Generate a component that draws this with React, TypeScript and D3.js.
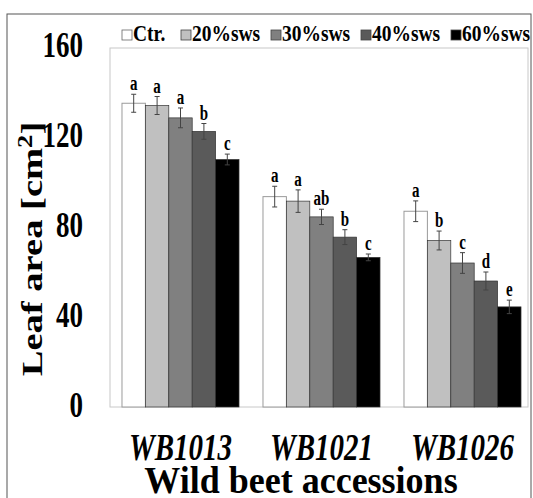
import React from 'react';
import * as d3 from 'd3';

// Leaf area of wild beet accessions under soil water stress
const accessions = ['WB1013', 'WB1021', 'WB1026'];
const treatments = ['Ctr.', '20%sws', '30%sws', '40%sws', '60%sws'];
const colors = ['#ffffff', '#c0c0c0', '#808080', '#5a5a5a', '#000000'];

const wb1013 = [135, 134, 128.5, 122.5, 110];
const wb1021 = [93.5, 91.5, 84.5, 75.5, 66.5];
const wb1026 = [87, 74, 64, 56, 44.5];
const values = [wb1013, wb1021, wb1026];

const err1013 = [4, 4, 4.4, 3.5, 2.4];
const err1021 = [4.6, 5, 3.4, 3.3, 1.5];
const err1026 = [4.6, 4.2, 4.6, 4, 3];
const errors = [err1013, err1021, err1026];

const letters1013 = ['a', 'a', 'a', 'b', 'c'];
const letters1021 = ['a', 'a', 'ab', 'b', 'c'];
const letters1026 = ['a', 'b', 'c', 'd', 'e'];
const letters = [letters1013, letters1021, letters1026];

const yTicks = [0, 40, 80, 120, 160];

const W = 533;
const H = 498;
const plot = { left: 110, right: 528, top: 47, bottom: 407 };

// text with a vertical stretch, like the original raster
function StretchText({ x, y, sx = 1, sy = 1, rotate = 0, children, ...rest }: any) {
  return (
    <text
      transform={`translate(${x},${y}) rotate(${rotate}) scale(${sx},${sy})`}
      fontFamily="Liberation Serif"
      fontWeight="bold"
      fill="#000"
      {...rest}
    >
      {children}
    </text>
  );
}

export default function App() {
  const x0 = d3.scaleBand<string>()
    .domain(accessions)
    .range([plot.left, 533])
    .paddingInner(0.17)
    .paddingOuter(0.085);

  const x1 = d3.scaleBand<string>()
    .domain(treatments)
    .range([0, x0.bandwidth()]);

  const y = d3.scaleLinear().domain([0, 160]).range([plot.bottom, plot.top]);

  const legendX = [122, 181, 271, 361, 451];

  return (
    <svg width={W} height={H} style={{ position: 'absolute', left: 0, top: 0, background: '#fff' }}>
      {/* outer frame */}
      <rect x={7} y={14} width={524} height={500} fill="none" stroke="#555" strokeWidth={1} />

      {/* plot frame */}
      <rect x={plot.left} y={plot.top + 1} width={plot.right - plot.left} height={plot.bottom - plot.top - 1}
        fill="none" stroke="#c8c8c8" strokeWidth={1} />

      {/* bars */}
      {accessions.map((acc, gi) => (
        <g key={acc} transform={`translate(${x0(acc)},0)`}>
          {treatments.map((t, ti) => {
            const v = values[gi][ti];
            const e = errors[gi][ti];
            const bx = x1(t)!;
            const bw = x1.bandwidth();
            const cx = bx + bw / 2;
            return (
              <g key={t}>
                <rect x={bx} y={y(v)} width={bw} height={y(0) - y(v)}
                  fill={colors[ti]} stroke={ti === 0 ? '#9a9a9a' : '#333'} strokeWidth={ti === 0 ? 1 : 0.7} />
                <line x1={cx} x2={cx} y1={y(v + e)} y2={y(v - e)} stroke="#444" strokeWidth={1} />
                <line x1={cx - 2.5} x2={cx + 2.5} y1={y(v + e)} y2={y(v + e)} stroke="#444" strokeWidth={1} />
                <line x1={cx - 2.5} x2={cx + 2.5} y1={y(v - e)} y2={y(v - e)} stroke="#444" strokeWidth={1} />
                <StretchText x={cx} y={y(v + e) - 4} sy={1.35} fontSize={15} textAnchor="middle">
                  {letters[gi][ti]}
                </StretchText>
              </g>
            );
          })}
        </g>
      ))}

      {/* y tick labels */}
      {yTicks.map((t) => (
        <StretchText key={t} x={83} y={y(t) + 10} sy={1.35} fontSize={27} textAnchor="end">
          {t}
        </StretchText>
      ))}

      {/* y axis title */}
      <StretchText x={42} y={249} rotate={-90} sx={1.33} fontSize={29} textAnchor="middle">
        Leaf area [cm<tspan dy={-10} fontSize={20}>2</tspan><tspan dy={10}>]</tspan>
      </StretchText>

      {/* x tick labels */}
      {accessions.map((acc) => (
        <StretchText key={acc} x={x0(acc)! + x0.bandwidth() / 2} y={460} sy={1.3} fontSize={29}
          fontStyle="italic" textAnchor="middle">
          {acc}
        </StretchText>
      ))}

      {/* x axis title */}
      <StretchText x={301} y={493} sy={1.05} fontSize={36} textAnchor="middle">
        Wild beet accessions
      </StretchText>

      {/* legend */}
      {treatments.map((t, i) => (
        <g key={t}>
          <rect x={legendX[i]} y={30} width={10} height={10} fill={colors[i]}
            stroke={i === 0 ? '#666' : '#444'} strokeWidth={0.8} />
          <StretchText x={legendX[i] + 11} y={41} sy={1.2} fontSize={19.5}>
            {t}
          </StretchText>
        </g>
      ))}
    </svg>
  );
}
